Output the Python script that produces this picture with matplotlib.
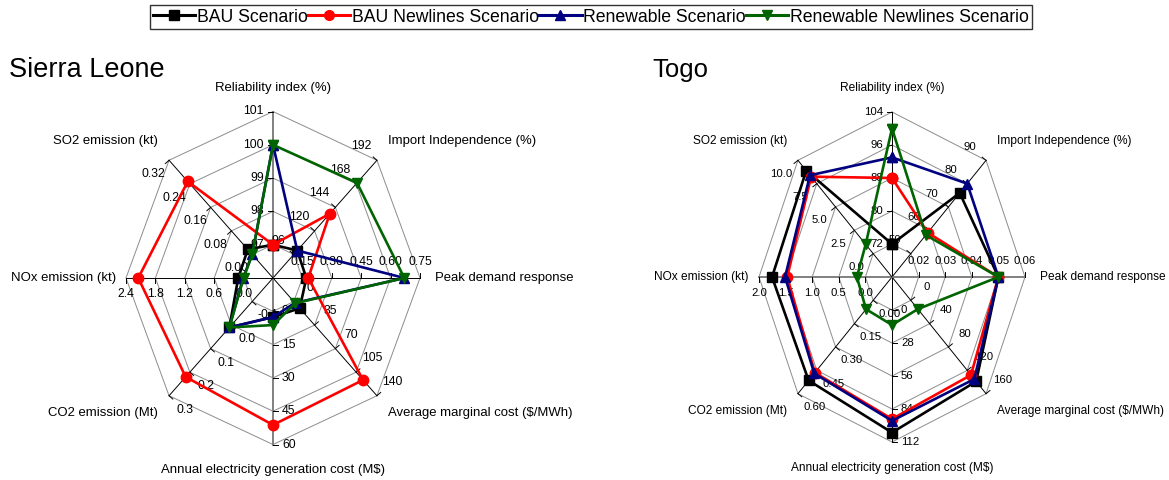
import numpy as np
import matplotlib
matplotlib.use("Agg")
import matplotlib.pyplot as plt
from matplotlib.lines import Line2D

plt.rcParams['font.family'] = ['Liberation Sans', 'DejaVu Sans']

# ---------------------------------------------------------------- data
axis_names = ["Reliability index (%)", "Import Independence (%)", "Peak demand response",
              "Average marginal cost ($/MWh)", "Annual electricity generation cost (M$)",
              "CO2 emission (Mt)", "NOx emission (kt)", "SO2 emission (kt)"]

scenarios = ["BAU Scenario", "BAU Newlines Scenario",
             "Renewable Scenario", "Renewable Newlines Scenario"]

# Sierra Leone: value at the centre, value at the outer ring, ring labels
sl_min = [96, 72, 0.0, -35, -15, -0.2, -0.6, -0.08]
sl_max = [101, 192, 0.75, 140, 60, 0.3, 2.4, 0.32]
sl_ticks = [["97", "98", "99", "100", "101"],
            ["96", "120", "144", "168", "192"],
            ["0.15", "0.30", "0.45", "0.60", "0.75"],
            ["0", "35", "70", "105", "140"],
            ["0", "15", "30", "45", "60"],
            ["-0.1", "0.0", "0.1", "0.2", "0.3"],
            ["0.0", "0.6", "1.2", "1.8", "2.4"],
            ["0.00", "0.08", "0.16", "0.24", "0.32"]]
sl_bau = [97.0, 100, 0.17, 10, 2.6, 0.01, 0.11, 0.017]
sl_bau_new = [97.0, 137.5, 0.18, 116.6, 51.2, 0.22, 2.15, 0.248]
sl_ren = [100, 100, 0.67, 2.0, 2.6, 0.01, 0.01, 0.0]
sl_ren_new = [100, 169, 0.67, 2.5, 6.2, 0.01, 0.0, 0.0]

# Togo
tg_min = [64, 40, 0.01, -40, -28, -0.15, -0.5, -2.5]
tg_max = [104, 90, 0.06, 160, 112, 0.60, 2.0, 10.0]
tg_ticks = [["72", "80", "88", "96", "104"],
            ["50", "60", "70", "80", "90"],
            ["0.02", "0.03", "0.04", "0.05", "0.06"],
            ["0", "40", "80", "120", "160"],
            ["0", "28", "56", "84", "112"],
            ["0.00", "0.15", "0.30", "0.45", "0.60"],
            ["0.0", "0.5", "1.0", "1.5", "2.0"],
            ["0.0", "2.5", "5.0", "7.5", "10.0"]]
tg_bau = [72, 76, 0.05, 139, 104, 0.515, 1.755, 8.9]
tg_bau_new = [88, 59, 0.05, 128, 92.5, 0.465, 1.47, 8.25]
tg_ren = [93, 80, 0.05, 135, 94, 0.47, 1.51, 8.4]
tg_ren_new = [100, 58, 0.05, 15, 12.7, 0.057, 0.16, 1.0]

colors = ["#000000", "#ff0000", "#000080", "#006400"]
markers = ["s", "o", "^", "v"]

# ---------------------------------------------------------------- figure
W, H = 1169, 480
fig = plt.figure(figsize=(W / 100, H / 100), dpi=100)

n_axes = len(axis_names)
theta = np.arange(n_axes) * 2 * np.pi / n_axes
sin_t, cos_t = np.sin(theta), np.cos(theta)
rings = np.arange(1, 6) / 5.0


def radar(cx, cy, rx, ry, vmin, vmax, ticks, series, title, title_x,
          vert_gray, name_fs, tick_fs, title_fs):
    # axes in pixel units, origin at the chart centre, y pointing up
    ax = fig.add_axes([0, 0, 1, 1])
    ax.set_xlim(-cx, W - cx)
    ax.set_ylim(-(H - cy), cy)
    ax.axis("off")
    ax.patch.set_alpha(0)

    px = rx * sin_t
    py = ry * cos_t

    # octagonal rings
    for r in rings:
        ax.plot(np.append(px, px[0]) * r, np.append(py, py[0]) * r,
                color="#8c8c8c", lw=0.7, zorder=1)

    # spokes
    for k in range(n_axes):
        if k % 4 == 0:
            c, lw = ("#808080", 1.4) if vert_gray else ("#000000", 0.7)
        elif k % 4 == 2:
            c, lw = ("#000000", 0.7) if vert_gray else ("#808080", 1.4)
        else:
            c, lw = "#000000", 0.7
        ax.plot([0, px[k]], [0, py[k]], color=c, lw=lw, zorder=2)

    # ticks and ring labels for each spoke
    for k in range(n_axes):
        d = np.array([px[k], py[k]])
        d = d / np.hypot(*d)
        perp = np.array([-d[1], d[0]])
        for r, lab in zip(rings, ticks[k]):
            p = np.array([px[k], py[k]]) * r
            q = p + perp * 5
            ax.plot([p[0], q[0]], [p[1], q[1]], color="#000000", lw=0.7,
                    zorder=2)
            if k % 4 == 0:
                off = perp * 9
                ha = "right" if k == 0 else "left"
                ax.text(p[0] + off[0], p[1] + off[1], lab, fontsize=tick_fs,
                        ha=ha, va="center", zorder=3)
            elif k % 4 == 2:
                off = perp * 16
                ax.text(p[0] + off[0], p[1] + off[1], lab, fontsize=tick_fs,
                        ha="center", va="center", zorder=3)
            else:
                off = perp * 21
                ax.text(p[0] + off[0], p[1] + off[1], lab, fontsize=tick_fs,
                        ha="center", va="center", zorder=3)

    # category names
    tx, ty = px[1], py[1]
    name_pos = [(0, ry + 24, "center"), (tx + 11, ty + 19, "left"),
                (rx + 15, 0, "left"), (tx + 11, -ty - 17, "left"),
                (0, -ry - 26, "center"), (-tx - 11, -ty - 17, "right"),
                (-rx - 10, 0, "right"), (-tx - 11, ty + 19, "right")]
    for (x, y, ha), name in zip(name_pos, axis_names):
        ax.text(x, y, name, fontsize=name_fs, ha=ha, va="center")

    # scenario polygons
    for vals, c, m in zip(series, colors, markers):
        f = (np.array(vals, float) - np.array(vmin)) / (np.array(vmax) - np.array(vmin))
        xs = np.append(f * px, f[0] * px[0])
        ys = np.append(f * py, f[0] * py[0])
        ax.plot(xs, ys, color=c, lw=1.9, marker=m, ms=7.5, mec=c, mfc=c,
                zorder=5)

    ax.text(title_x - cx, cy - 70, title, fontsize=title_fs, ha="left",
            va="center")


radar(273, 278, 147, 166.5, sl_min, sl_max, sl_ticks,
      [sl_bau, sl_bau_new, sl_ren, sl_ren_new], "Sierra Leone", 9, True,
      9.45, 8.8, 19.5)
radar(892, 277, 133, 165, tg_min, tg_max, tg_ticks,
      [tg_bau, tg_bau_new, tg_ren, tg_ren_new], "Togo", 652, False,
      8.6, 8.2, 18.5)

handles = [Line2D([], [], color=c, marker=m, lw=2.2, ms=7, mec=c, mfc=c)
           for c, m in zip(colors, markers)]
leg = fig.legend(handles, scenarios, loc="upper center", ncol=4,
                 bbox_to_anchor=(591 / W, 1 - 5 / H), frameon=True,
                 fancybox=False, edgecolor="#000000", fontsize=12.7,
                 handlelength=2.4, handletextpad=0.1, columnspacing=0.0,
                 borderpad=0.2, borderaxespad=0)
leg.get_frame().set_linewidth(1.0)

fig.savefig("out.png", dpi=100)
